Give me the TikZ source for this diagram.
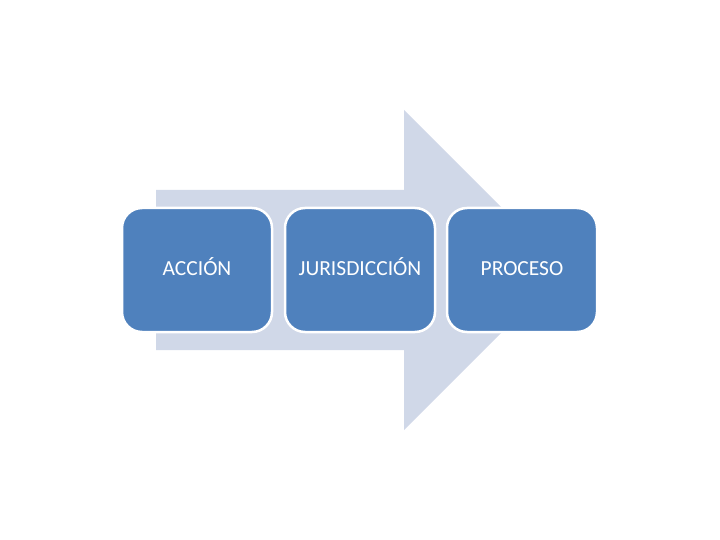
\documentclass[tikz,border=0pt]{standalone}
\usepackage{fontspec}
\setmainfont{Carlito}
\usepackage{tikz}

\definecolor{arrowfill}{RGB}{208,216,232}
\definecolor{boxfill}{RGB}{79,129,189}

\tikzset{
  stage/.style={draw=white, line width=2.5pt, fill=boxfill, rounded corners=20pt,
    minimum width=150pt, minimum height=124pt, text=white,
    text height=2.2ex, text depth=0pt, font=\fontsize{21.5}{24}\selectfont}
}

\begin{document}
\begin{tikzpicture}[x=1pt,y=1pt]
\useasboundingbox (0,0) rectangle (720,-540);

\fill[arrowfill] (156,-190) -- (404,-190) -- (404,-110) -- (564,-270)
    -- (404,-430) -- (404,-350) -- (156,-350) -- cycle;

\foreach \x/\name/\txt in {197/acc/ACCIÓN, 360/jur/JURISDICCIÓN, 522/pro/PROCESO}
    {\node[stage] (\name) at (\x,-270) {\txt};}

\end{tikzpicture}
\end{document}
